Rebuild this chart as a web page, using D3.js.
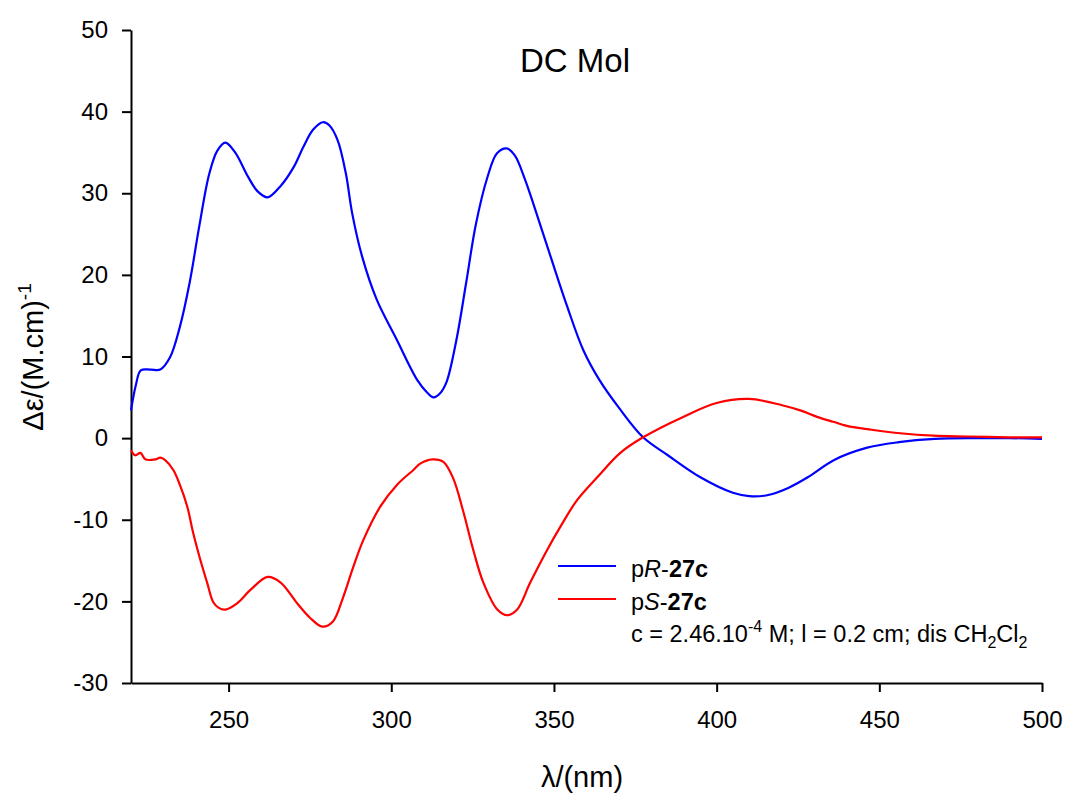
<!DOCTYPE html>
<html>
<head>
<meta charset="utf-8">
<script src="https://cdn.jsdelivr.net/npm/d3@7"></script>
<style>
  html, body { margin: 0; padding: 0; background: #fff; }
  svg { display: block; }
  text { font-family: Arial, "Liberation Sans", sans-serif; fill: #000; }
</style>
</head>
<body>
<svg id="chart" width="1067" height="797"></svg>
<script>
// ---- data ----
const pR_wavelength = [220,221.5,223,226,229,232,235,238,241,244,246.5,249,252,256,259,262,266,270,273,276,279,281,283.5,286,288,291,295.5,301.5,308,311,313,315,317,320,323,326,329.5,332.5,335.5,338,341,344,349,354,359,364,370,377.4,385,395,405,410,415.5,422,428,436,446,456,467,480,490,500];
const pR_values     = [3.4,6.5,8.3,8.4,8.4,9.9,13.6,19.0,26.0,32.3,35.2,36.2,35.0,32.0,30.2,29.5,30.9,33.2,35.7,37.8,38.7,38.3,36.5,32.5,27.5,22.3,17.0,12.2,7.1,5.6,5.0,5.5,6.9,12.0,19.0,26.2,31.9,34.9,35.5,34.6,31.8,28.3,22.2,16.2,10.8,7.1,3.7,0.1,-2.1,-4.8,-6.7,-7.1,-7.0,-6.1,-4.8,-2.7,-1.2,-0.5,-0.1,0.0,0.0,-0.1];

const pS_wavelength = [220,221.3,222.9,224.4,227.5,229,230.5,233,235,237.3,239.1,241.3,243.4,245.3,247,249,252.7,256.7,262,266,271,275,278.8,282,285.2,288.3,291.4,296.6,301.8,306.8,309,312.6,316,319,322,325.2,328.3,332.6,335.6,338.7,342.7,347.9,351.9,357.1,363.3,370.4,377.4,389.7,400,410,420.4,425.7,430.9,435.8,441,446.3,456.4,466.6,477,490,500];
const pS_values     = [-1.5,-2.1,-1.8,-2.6,-2.6,-2.4,-2.7,-3.9,-5.7,-8.4,-11.6,-14.9,-17.7,-20.1,-20.8,-21.0,-20.2,-18.6,-17.0,-17.7,-20.2,-22.0,-23.1,-22.5,-19.5,-15.8,-12.5,-8.4,-5.7,-3.9,-3.1,-2.6,-2.9,-4.9,-8.8,-13.7,-17.7,-21.0,-21.7,-21.0,-17.7,-13.7,-10.9,-7.6,-4.8,-1.8,0.1,2.6,4.3,4.8,4.0,3.4,2.6,2.0,1.4,1.1,0.6,0.3,0.2,0.1,0.1];

const xTicks = [250, 300, 350, 400, 450, 500];
const yTicks = [-30, -20, -10, 0, 10, 20, 30, 40, 50];
const seriesNames = ["pR-27c", "pS-27c"];
const seriesColors = ["#0000ff", "#ff0000"];

// ---- layout ----
const svg = d3.select("#chart");
const plotLeft = 131, plotRight = 1042, plotTop = 30, plotBottom = 683;

const x = d3.scaleLinear().domain([220, 500]).range([plotLeft, plotRight]);
const y = d3.scaleLinear().domain([-30, 50]).range([plotBottom, plotTop]);

// axes
const fmt = d => String(d);
const xAxis = d3.axisBottom(x).tickValues(xTicks).tickFormat(fmt).tickSize(9).tickPadding(19).tickSizeOuter(0);
const yAxis = d3.axisLeft(y).tickValues(yTicks).tickFormat(fmt).tickSize(9).tickPadding(14).tickSizeOuter(0);

const gx = svg.append("g").attr("transform", `translate(0,${plotBottom})`).call(xAxis);
const gy = svg.append("g").attr("transform", `translate(${plotLeft},0)`).call(yAxis);
[gx, gy].forEach(g => {
  g.selectAll("path.domain").attr("stroke", "#000").attr("stroke-width", 2);
  g.selectAll(".tick line").attr("stroke", "#000").attr("stroke-width", 2);
  g.selectAll(".tick text").attr("font-size", 24).attr("font-family", "Arial, 'Liberation Sans', sans-serif").attr("fill", "#000");
});

// lines
const line = d3.line().x(d => x(d[0])).y(d => y(d[1])).curve(d3.curveCatmullRom.alpha(0.5));
const pR = pR_wavelength.map((w, i) => [w, pR_values[i]]);
const pS = pS_wavelength.map((w, i) => [w, pS_values[i]]);
[pR, pS].forEach((data, i) => {
  svg.append("path").datum(data)
    .attr("fill", "none")
    .attr("stroke", seriesColors[i])
    .attr("stroke-width", 2.2)
    .attr("stroke-linejoin", "round")
    .attr("d", line);
});

// title
svg.append("text").attr("x", 575).attr("y", 72).attr("text-anchor", "middle")
  .attr("font-size", 33).text("DC Mol");

// x label
const xl = svg.append("text").attr("x", 582).attr("y", 787).attr("text-anchor", "middle").attr("font-size", 29);
xl.append("tspan").text("λ/(nm)");

// y label
const yl = svg.append("text").attr("transform", "translate(43,357) rotate(-90)").attr("text-anchor", "middle").attr("font-size", 29);
yl.append("tspan").text("Δε/(M.cm)");
yl.append("tspan").attr("dy", -12).attr("font-size", 19).text("-1");

// legend
const legX1 = 558, legX2 = 616, legTx = 631;
const legY = [566, 599];
seriesNames.forEach((n, i) => {
  svg.append("line").attr("x1", legX1).attr("x2", legX2).attr("y1", legY[i]).attr("y2", legY[i])
    .attr("stroke", seriesColors[i]).attr("stroke-width", 2);
});
const t1 = svg.append("text").attr("x", legTx).attr("y", 577).attr("font-size", 23.5);
t1.append("tspan").text("p");
t1.append("tspan").attr("font-style", "italic").text("R");
t1.append("tspan").text("-");
t1.append("tspan").attr("font-weight", "bold").text("27c");
const t2 = svg.append("text").attr("x", legTx).attr("y", 610).attr("font-size", 23.5);
t2.append("tspan").text("p");
t2.append("tspan").attr("font-style", "italic").text("S");
t2.append("tspan").text("-");
t2.append("tspan").attr("font-weight", "bold").text("27c");
const t3 = svg.append("text").attr("x", legTx).attr("y", 642).attr("font-size", 23.5);
t3.append("tspan").text("c = 2.46.10");
t3.append("tspan").attr("dy", -10).attr("font-size", 16).text("-4");
t3.append("tspan").attr("dy", 10).text(" M; l = 0.2 cm; dis CH");
t3.append("tspan").attr("dy", 6).attr("font-size", 16).text("2");
t3.append("tspan").attr("dy", -6).text("Cl");
t3.append("tspan").attr("dy", 6).attr("font-size", 16).text("2");
</script>
</body>
</html>
